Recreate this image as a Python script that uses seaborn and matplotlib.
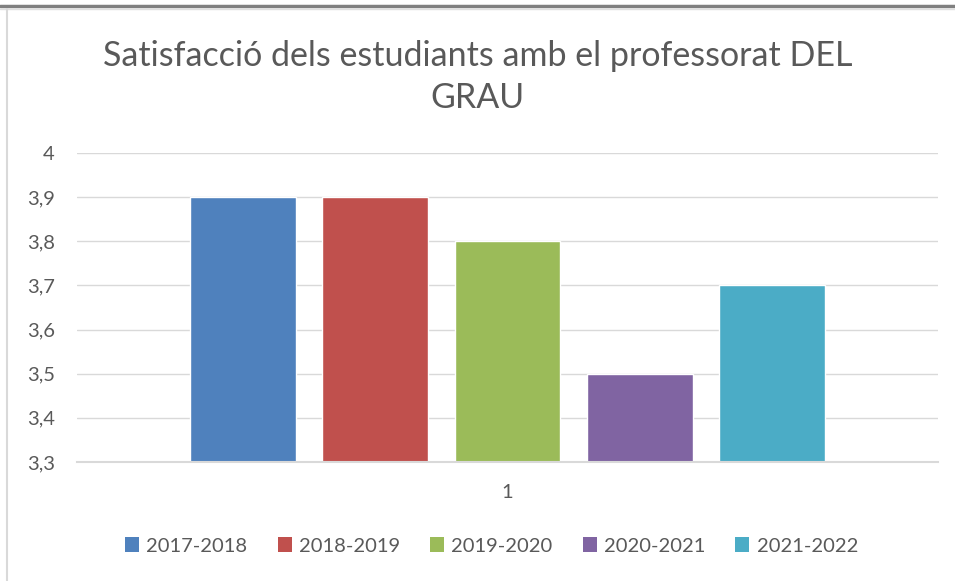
import matplotlib
matplotlib.use("Agg")
import matplotlib.pyplot as plt
import seaborn as sns
import pandas as pd
from matplotlib.ticker import FuncFormatter, MultipleLocator
from matplotlib.patches import Patch
from matplotlib.lines import Line2D

cursos = ["2017-2018", "2018-2019", "2019-2020", "2020-2021", "2021-2022"]
valors = [3.9, 3.9, 3.8, 3.5, 3.7]
categoria = ["1"] * len(cursos)
colors = ["#4F81BD", "#C0504D", "#9BBB59", "#8064A2", "#4BACC6"]
titol = "Satisfacció dels estudiants amb el professorat DEL\nGRAU"

df = pd.DataFrame({"grup": categoria, "curs": cursos, "valor": valors})

sns.set_theme(style="white")
plt.rcParams["font.family"] = ["Lato", "DejaVu Sans"]

fig = plt.figure(figsize=(9.55, 5.81), dpi=100)
ax = fig.add_axes([77/955, 1-462/581, (938-77)/955, (462-153)/581])

sns.barplot(data=df, x="grup", y="valor", hue="curs", palette=colors,
            width=0.768, gap=0.2, ax=ax, legend=False, saturation=1)

ax.set_ylim(3.3, 4.0)
ax.set_xlim(-0.5, 0.5)
ax.yaxis.set_major_locator(MultipleLocator(0.1))
ax.yaxis.set_major_formatter(FuncFormatter(lambda v, p: ("%g" % round(v, 1)).replace(".", ",")))
ax.grid(axis="y", color="#D9D9D9", linewidth=1)
ax.set_axisbelow(True)
for s in ["top", "right", "left"]:
    ax.spines[s].set_visible(False)
ax.spines["bottom"].set_color("#D9D9D9")
ax.spines["bottom"].set_linewidth(1.5)
ax.tick_params(axis="y", length=0, pad=16, labelsize=14.5, labelcolor="#595959")
ax.tick_params(axis="x", length=0, pad=16, labelsize=14.5, labelcolor="#595959")
ax.set_xlabel("")
ax.set_ylabel("")

fig.text(0.5, 1-77/581, titol, ha="center", va="center", fontsize=24.5,
         color="#595959", linespacing=1.35)

handles = [Patch(facecolor=c, edgecolor="none") for c in colors]
fig.legend(handles, cursos, loc="center", bbox_to_anchor=(0.5 + 14/955, 1-546/581),
           ncol=5, frameon=False, handlelength=0.7, handleheight=0.7,
           handletextpad=0.35, columnspacing=1.5, fontsize=14.5,
           labelcolor="#595959")

# frame decorations
fig.add_artist(Line2D([0, 1], [1-6/581, 1-6/581], transform=fig.transFigure, color="#808080", linewidth=2.5))
fig.add_artist(Line2D([0, 1], [1-8.5/581, 1-8.5/581], transform=fig.transFigure, color="#E0E0E0", linewidth=1))
fig.add_artist(Line2D([6.5/955, 6.5/955], [0, 1-9/581], transform=fig.transFigure, color="#D9D9D9", linewidth=1.5))

fig.savefig("out.png", dpi=100)
